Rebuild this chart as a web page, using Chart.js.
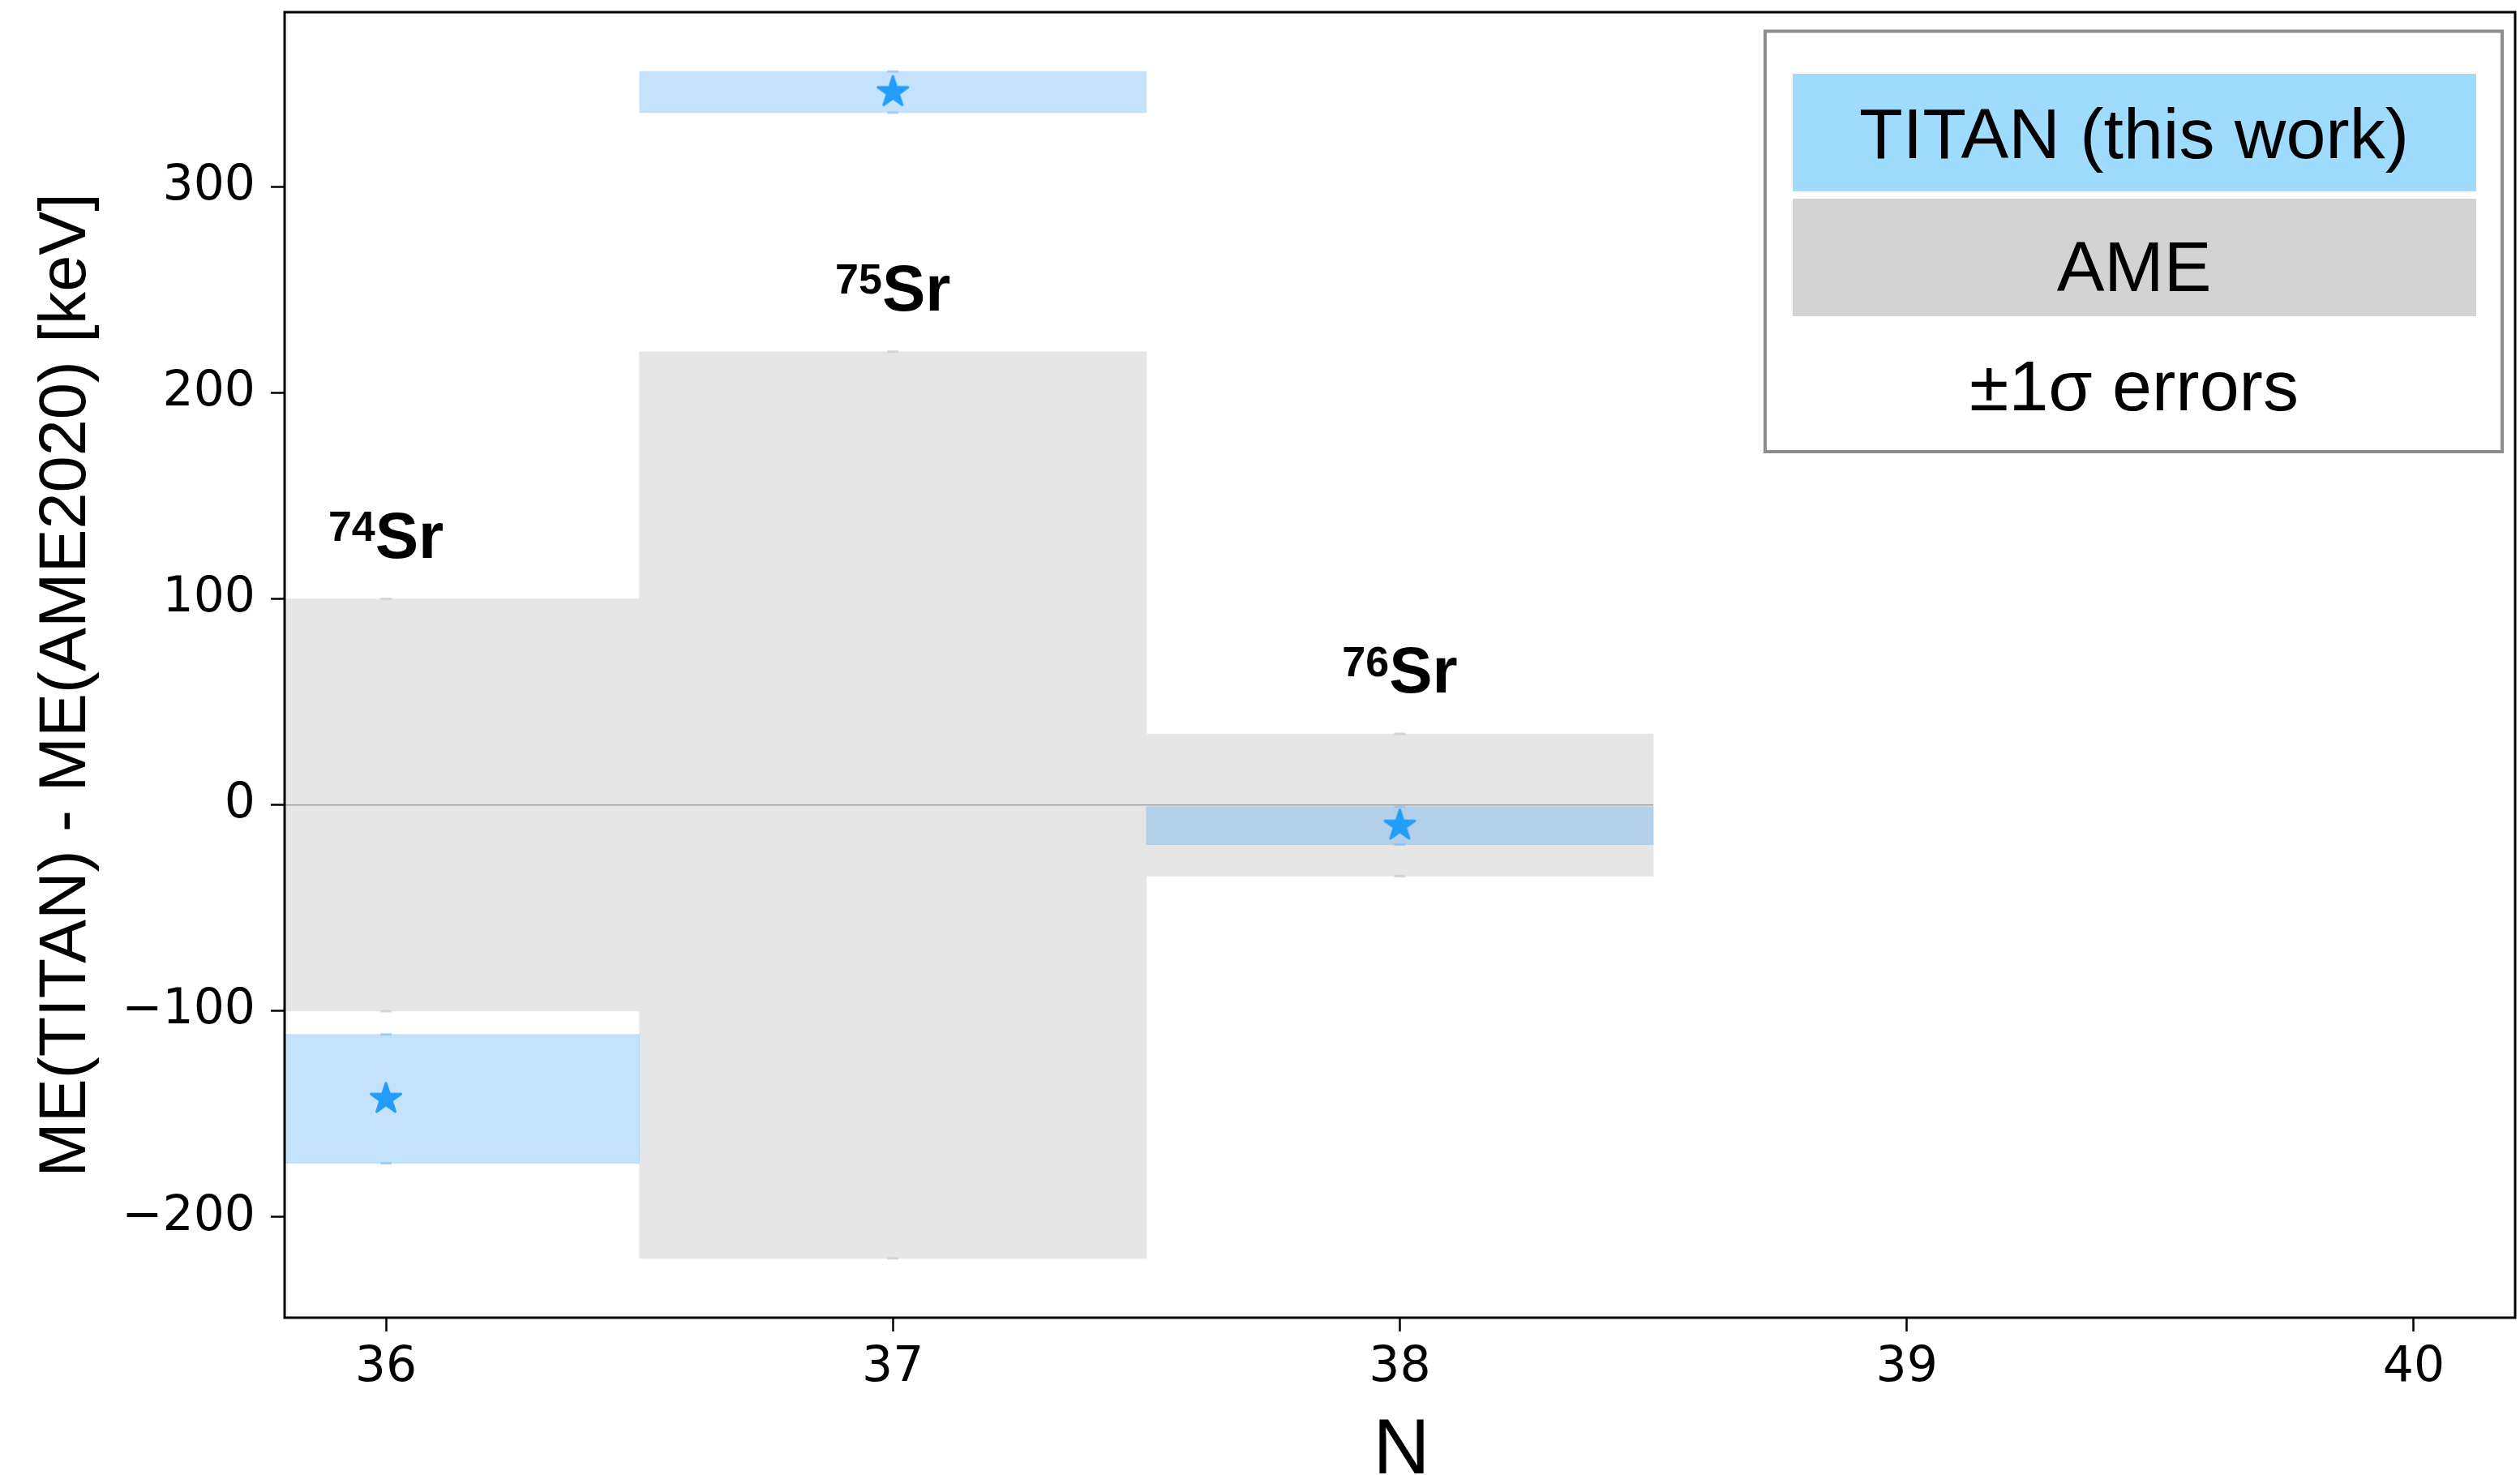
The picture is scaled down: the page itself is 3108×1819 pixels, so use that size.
<!DOCTYPE html>
<html>
<head>
<meta charset="utf-8">
<title>Sr mass excess comparison</title>
<script src="https://cdn.jsdelivr.net/npm/chart.js@4.4.1/dist/chart.umd.min.js"></script>
<style>
  html, body { margin: 0; padding: 0; background: #ffffff; overflow: hidden; }
  #chart { display: block; width: 3108px; height: 1819px; }
</style>
</head>
<body>
<canvas id="chart" width="3108" height="1819"></canvas>
<script>
// Neutron number of each measured isotope and its mass number
const N_VALUES = [36, 37, 38];
const MASS_NUMBERS = [74, 75, 76];
const ELEMENT = 'Sr';

// ME(TITAN) - ME(AME2020) in keV, with 1-sigma uncertainties
const TITAN_DELTA = [-142.6, 346, -10];
const TITAN_ERR = [31.3, 10, 9.2];
// AME2020 1-sigma uncertainty (band centred on zero)
const AME_ERR = [100, 220, 34.5];

// Axis ticks
const X_LIMITS = [35.8, 40.2];
const X_TICKS = [36, 37, 38, 39, 40];
const X_TICK_LABELS = ['36', '37', '38', '39', '40'];
const Y_TICKS = [-200, -100, 0, 100, 200, 300];
const Y_TICK_LABELS = ['\u2212200', '\u2212100', '0', '100', '200', '300'];

// Legend rows
const LEGEND_ROWS = ['TITAN (this work)', 'AME', '\u00B11\u03C3 errors'];
const X_TITLE = 'N';
const Y_TITLE = 'ME(TITAN) - ME(AME2020) [keV]';

// ---- styling ----
const SANS = '"Liberation Sans", Arial, Helvetica, sans-serif';
const TICK_FONT = '"DejaVu Sans", sans-serif';
const AME_FILL = '#e6e6e6';
const TITAN_FILL = 'rgba(62, 158, 245, 0.30)';
const STAR_COLOR = 'rgb(34, 158, 250)';
const CAP_GREY = '#d4d4d4';
const CAP_BLUE = 'rgba(120, 180, 240, 0.55)';
const LABEL_GAP = 20; // keV above the AME band top

// y limits from the data extent with a 5% margin on each side
const yLo = Math.min(...AME_ERR.map(e => -e), ...TITAN_DELTA.map((v, i) => v - TITAN_ERR[i]));
const yHi = Math.max(...AME_ERR, ...TITAN_DELTA.map((v, i) => v + TITAN_ERR[i]));
const yPad = 0.05 * (yHi - yLo);
const Y_MIN = yLo - yPad;
const Y_MAX = yHi + yPad;

// filled five-pointed star used as the point marker
function makeStar(R, color, lw) {
  const half = Math.ceil(R + lw) + 1;
  const size = half * 2;
  const c = document.createElement('canvas');
  c.width = size; c.height = size;
  const g = c.getContext('2d');
  const r = R * 0.381966;
  g.beginPath();
  for (let k = 0; k < 10; k++) {
    const ang = -Math.PI / 2 + k * Math.PI / 5;
    const rr = (k % 2 === 0) ? R : r;
    const px = half + rr * Math.cos(ang);
    const py = half + rr * Math.sin(ang);
    if (k === 0) g.moveTo(px, py); else g.lineTo(px, py);
  }
  g.closePath();
  g.fillStyle = color;
  g.fill();
  g.lineJoin = 'round';
  g.lineWidth = lw;
  g.strokeStyle = color;
  g.stroke();
  return c;
}
const starMarker = makeStar(19.5, STAR_COLOR, 3);

// caps, frame, isotope labels, axis titles and the legend table
const decorations = {
  id: 'decorations',
  afterDatasetsDraw(chart) {
    const { ctx, chartArea: a, scales: { x, y } } = chart;
    ctx.save();
    ctx.beginPath();
    ctx.rect(a.left, a.top, a.right - a.left, a.bottom - a.top);
    ctx.clip();
    // small error-bar caps at the band edges
    N_VALUES.forEach((n, i) => {
      const px = x.getPixelForValue(n);
      const caps = [
        [AME_ERR[i], CAP_GREY], [-AME_ERR[i], CAP_GREY],
        [TITAN_DELTA[i] + TITAN_ERR[i], CAP_BLUE], [TITAN_DELTA[i] - TITAN_ERR[i], CAP_BLUE]
      ];
      caps.forEach(([v, col]) => {
        const py = y.getPixelForValue(v);
        ctx.strokeStyle = col;
        ctx.lineWidth = 3;
        ctx.beginPath();
        ctx.moveTo(px - 7, py);
        ctx.lineTo(px + 7, py);
        ctx.stroke();
      });
    });
    ctx.restore();

    // isotope labels with superscript mass number
    ctx.save();
    ctx.fillStyle = '#000';
    ctx.textBaseline = 'alphabetic';
    ctx.textAlign = 'left';
    const supFont = 'bold 52px ' + SANS;
    const mainFont = 'bold 80px ' + SANS;
    N_VALUES.forEach((n, i) => {
      const sup = String(MASS_NUMBERS[i]);
      ctx.font = supFont;
      const ws = ctx.measureText(sup).width;
      ctx.font = mainFont;
      const wm = ctx.measureText(ELEMENT).width;
      const x0 = x.getPixelForValue(n) - (ws + wm) / 2;
      const yb = y.getPixelForValue(AME_ERR[i] + LABEL_GAP);
      ctx.font = supFont;
      ctx.fillText(sup, x0, yb - 20.5);
      ctx.font = mainFont;
      ctx.fillText(ELEMENT, x0 + ws, yb);
    });
    ctx.restore();

    // axes frame
    ctx.save();
    ctx.strokeStyle = '#000';
    ctx.lineWidth = 3;
    ctx.strokeRect(a.left, a.top, a.right - a.left, a.bottom - a.top);
    ctx.restore();
  },
  afterDraw(chart) {
    const { ctx, chartArea: a } = chart;
    ctx.save();
    ctx.fillStyle = '#000';
    // x-axis title
    ctx.font = '97px ' + SANS;
    ctx.textAlign = 'center';
    ctx.textBaseline = 'alphabetic';
    ctx.fillText(X_TITLE, (a.left + a.right) / 2 + 2, 1817);
    // y-axis title
    ctx.font = '81px ' + SANS;
    ctx.translate(105, 845);
    ctx.rotate(-Math.PI / 2);
    ctx.fillText(Y_TITLE, 0, 0);
    ctx.restore();

    // legend table
    ctx.save();
    ctx.strokeStyle = '#8c8c8c';
    ctx.lineWidth = 4;
    ctx.strokeRect(2177, 38.5, 909, 518.5);
    ctx.fillStyle = '#9fdbfc';
    ctx.fillRect(2211, 91, 843, 145);
    ctx.fillStyle = '#d3d3d3';
    ctx.fillRect(2211, 245, 843, 145);
    ctx.fillStyle = '#000';
    ctx.font = '88px ' + SANS;
    ctx.textAlign = 'center';
    ctx.textBaseline = 'alphabetic';
    const baselines = [195, 359, 506];
    LEGEND_ROWS.forEach((t, i) => ctx.fillText(t, 2632, baselines[i]));
    ctx.restore();
  }
};

const tickGrid = {
  display: true,
  offset: false,
  drawOnChartArea: false,
  drawTicks: true,
  tickLength: 17,
  tickWidth: 2.5,
  tickColor: '#000'
};

// fixed axis box sizes; no extra edge padding for overhanging tick labels
function fixBox(size, horizontal) {
  return function (s) {
    if (horizontal) s.height = size; else s.width = size;
    s.paddingTop = 0; s.paddingBottom = 0; s.paddingLeft = 0; s.paddingRight = 0;
  };
}

new Chart(document.getElementById('chart'), {
  type: 'bar',
  data: {
    datasets: [
      {
        type: 'bar',
        label: 'AME',
        data: N_VALUES.map((n, i) => ({ x: n, y: [-AME_ERR[i], AME_ERR[i]] })),
        backgroundColor: AME_FILL,
        borderWidth: 0,
        grouped: false,
        barPercentage: 1,
        categoryPercentage: 1,
        order: 4
      },
      {
        type: 'line',
        label: 'zero',
        data: [
          { x: Math.min(...N_VALUES) - 0.5, y: 0 },
          { x: Math.max(...N_VALUES) + 0.5, y: 0 }
        ],
        borderColor: '#a0a0a0',
        borderWidth: 1.5,
        pointRadius: 0,
        fill: false,
        order: 3
      },
      {
        type: 'bar',
        label: 'TITAN (this work)',
        data: N_VALUES.map((n, i) => ({ x: n, y: [TITAN_DELTA[i] - TITAN_ERR[i], TITAN_DELTA[i] + TITAN_ERR[i]] })),
        backgroundColor: TITAN_FILL,
        borderWidth: 0,
        grouped: false,
        barPercentage: 1,
        categoryPercentage: 1,
        order: 2
      },
      {
        type: 'scatter',
        label: 'TITAN value',
        data: N_VALUES.map((n, i) => ({ x: n, y: TITAN_DELTA[i] })),
        pointStyle: starMarker,
        pointRadius: 20,
        showLine: false,
        order: 1
      }
    ]
  },
  options: {
    responsive: false,
    maintainAspectRatio: false,
    devicePixelRatio: 1,
    animation: false,
    events: [],
    layout: { autoPadding: false, padding: { left: 0, right: 6, top: 15, bottom: 0 } },
    plugins: {
      legend: { display: false },
      tooltip: { enabled: false }
    },
    scales: {
      x: {
        type: 'linear',
        min: X_LIMITS[0],
        max: X_LIMITS[1],
        offset: false,
        afterFit: fixBox(194, true),
        afterBuildTicks(s) { s.ticks = X_TICKS.map(v => ({ value: v })); },
        grid: tickGrid,
        border: { display: false },
        title: { display: false },
        ticks: {
          color: '#000',
          font: { family: TICK_FONT, size: 60 },
          padding: 9,
          maxRotation: 0,
          autoSkip: false,
          callback: v => X_TICK_LABELS[X_TICKS.indexOf(v)]
        }
      },
      y: {
        type: 'linear',
        min: Y_MIN,
        max: Y_MAX,
        afterFit: fixBox(351, false),
        afterBuildTicks(s) { s.ticks = Y_TICKS.map(v => ({ value: v })); },
        grid: tickGrid,
        border: { display: false },
        title: { display: false },
        ticks: {
          color: '#000',
          font: { family: TICK_FONT, size: 60 },
          padding: 19,
          autoSkip: false,
          callback: v => Y_TICK_LABELS[Y_TICKS.indexOf(v)]
        }
      }
    }
  },
  plugins: [decorations]
});
</script>
</body>
</html>
